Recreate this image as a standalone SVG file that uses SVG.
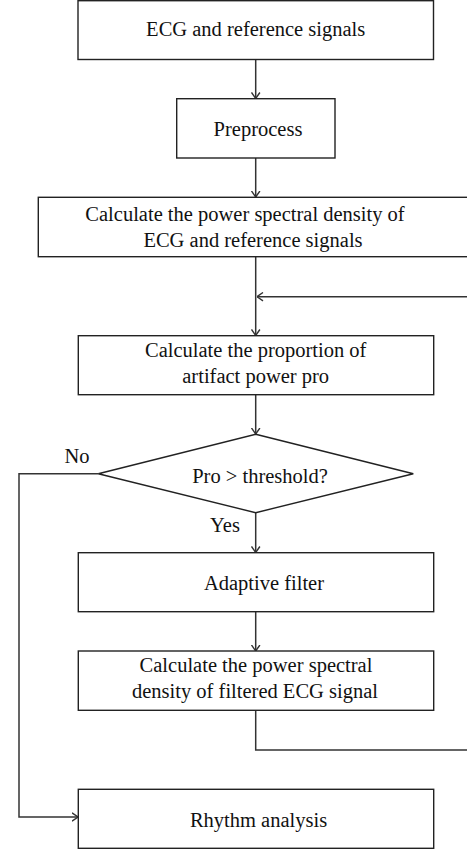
<svg xmlns="http://www.w3.org/2000/svg" width="467" height="851" viewBox="0 0 467 851">
<defs>
<style>
.box{fill:#fff;stroke:#222;stroke-width:1.4}
.ln{fill:none;stroke:#333;stroke-width:1.5}
text{font-family:"Liberation Serif","Times New Roman",serif;font-size:20.5px;fill:#111;text-anchor:middle}
</style>
<marker id="ah" viewBox="0 0 7 10" refX="6.5" refY="5" markerWidth="7" markerHeight="10" markerUnits="userSpaceOnUse" orient="auto">
<path d="M0.5,0.8 L6.5,5 L0.5,9.2" fill="none" stroke="#333" stroke-width="1.4"/>
</marker>
</defs>
<rect width="467" height="851" fill="#fff"/>
<g id="connectors">
<line class="ln" x1="255.7" y1="59.5" x2="255.7" y2="98.5" marker-end="url(#ah)"/>
<line class="ln" x1="255.7" y1="158" x2="255.7" y2="197" marker-end="url(#ah)"/>
<line class="ln" x1="255.7" y1="256.7" x2="255.7" y2="335.5" marker-end="url(#ah)"/>
<line class="ln" x1="467" y1="296.7" x2="257" y2="296.7" marker-end="url(#ah)"/>
<line class="ln" x1="255.7" y1="394.7" x2="255.7" y2="434" marker-end="url(#ah)"/>
<line class="ln" x1="255.7" y1="512.7" x2="255.7" y2="552.5" marker-end="url(#ah)"/>
<line class="ln" x1="255.7" y1="611.7" x2="255.7" y2="651" marker-end="url(#ah)"/>
<polyline class="ln" points="255.7,710.3 255.7,750 467,750"/>
<polyline class="ln" points="98.3,473.7 19,473.7 19,817 78,817" marker-end="url(#ah)"/>
<text x="77" y="463.3">No</text>
<text x="225" y="531.7">Yes</text>
</g>
<g id="n1"><rect class="box" x="78" y="0.7" width="355.5" height="58.8"/><text x="255.7" y="36">ECG and reference signals</text></g>
<g id="n2"><rect class="box" x="176.7" y="98.7" width="158.3" height="59.3"/><text x="258" y="136">Preprocess</text></g>
<g id="n3"><rect class="box" x="38.3" y="197.3" width="440" height="59.4"/><text x="245" y="220.7">Calculate the power spectral density of</text><text x="253" y="246.7">ECG and reference signals</text></g>
<g id="n4"><rect class="box" x="78.3" y="335.7" width="355.4" height="59"/><text x="255.7" y="356.7">Calculate the proportion of</text><text x="255.7" y="383.3">artifact power pro</text></g>
<g id="n5"><polygon class="box" points="255.7,434.3 413.3,473.7 255.7,512.7 98.3,473.7"/><text x="260" y="482.7">Pro &gt; threshold?</text></g>
<g id="n6"><rect class="box" x="78.3" y="552.7" width="355.4" height="59"/><text x="264" y="590">Adaptive filter</text></g>
<g id="n7"><rect class="box" x="78.3" y="651" width="355.4" height="59.3"/><text x="256" y="672.3">Calculate the power spectral</text><text x="255" y="697.7">density of filtered ECG signal</text></g>
<g id="n8"><rect class="box" x="78.3" y="789.3" width="355.4" height="59"/><text x="258.5" y="826.7">Rhythm analysis</text></g>
</svg>
